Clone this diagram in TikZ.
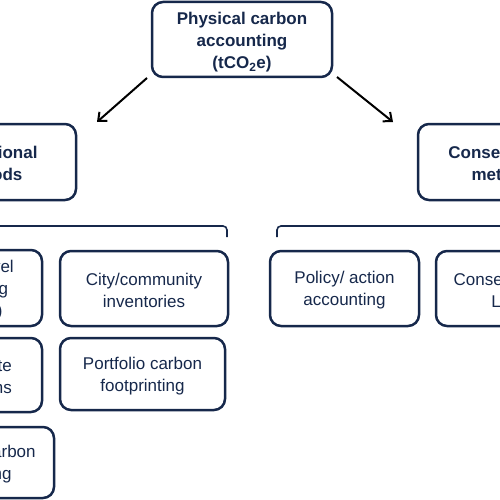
\documentclass[tikz,border=0pt]{standalone}
\usepackage{fontspec}
\setmainfont{Liberation Sans}
\usetikzlibrary{arrows.meta}
\definecolor{darknavy}{RGB}{22,40,75}
\newcommand{\toprule}[1]{\rule{0pt}{#1}}
\tikzset{
  box/.style={draw=darknavy, line width=2.5pt, rounded corners=11pt, align=center,
    text=darknavy, inner sep=0pt, font=\fontsize{17}{22}\selectfont},
  headbox/.style={box, font=\fontsize{17}{22}\selectfont\bfseries},
  arr/.style={-{Straight Barb[length=7pt,width=12pt]}, line width=2pt},
  bracket/.style={draw=darknavy, line width=1.6pt, rounded corners=4pt}
}

\begin{document}
\begin{tikzpicture}[x=1pt,y=-1pt]
\useasboundingbox (0,0) rectangle (500,500);
\clip (0,0) rectangle (500,500);
% top level
\node[headbox, minimum width=180, minimum height=75] (phys) at (242,39.5)
  {\toprule{18pt}Physical carbon\\accounting\\(tCO\smash{\textsubscript{2}}e)};
% the two families of methods
\node[headbox, minimum width=178, minimum height=76] (attr) at (-13,162)
  {\toprule{16pt}Attributional\\methods};
\node[headbox, minimum width=178, minimum height=76] (conseq) at (507,162)
  {\toprule{16pt}Consequential\\methods};
\coordinate (tailL) at (147,78);
\coordinate (tipL) at (97,122);
\coordinate (tailR) at (337,77);
\coordinate (tipR) at (393,122);
\draw[arr] (tailL) -- (tipL);
\draw[arr] (tailR) -- (tipR);
% brackets over the method groups
\draw[bracket] (-110,237) |- (227,226) -- (227,237);
\draw[bracket] (277,237) |- (620,226) -- (620,237);
% attributional methods
\node[box, minimum width=150, minimum height=76] (proj) at (-33,288)
  {\toprule{16pt}Project-level\\accounting\\(projects)};
\node[box, minimum width=168, minimum height=75] (city) at (144,288.5)
  {\toprule{16pt}City/community\\inventories};
\node[box, minimum width=136, minimum height=74] (corp) at (-26,375)
  {\toprule{16pt}Corporate\\emissions};
\node[box, minimum width=165, minimum height=72] (portf) at (142.5,374)
  {\toprule{16pt}Portfolio carbon\\footprinting};
\node[box, minimum width=152, minimum height=71] (prod) at (-22,462.5)
  {\toprule{16pt}Product carbon\\reporting};
% consequential methods
\node[box, minimum width=149, minimum height=75] (policy) at (344.5,288.5)
  {\toprule{16pt}Policy/ action\\accounting};
\node[box, minimum width=144, minimum height=75] (clca) at (508,288.5)
  {\toprule{16pt}Consequential\\LCA};
\end{tikzpicture}
\end{document}
